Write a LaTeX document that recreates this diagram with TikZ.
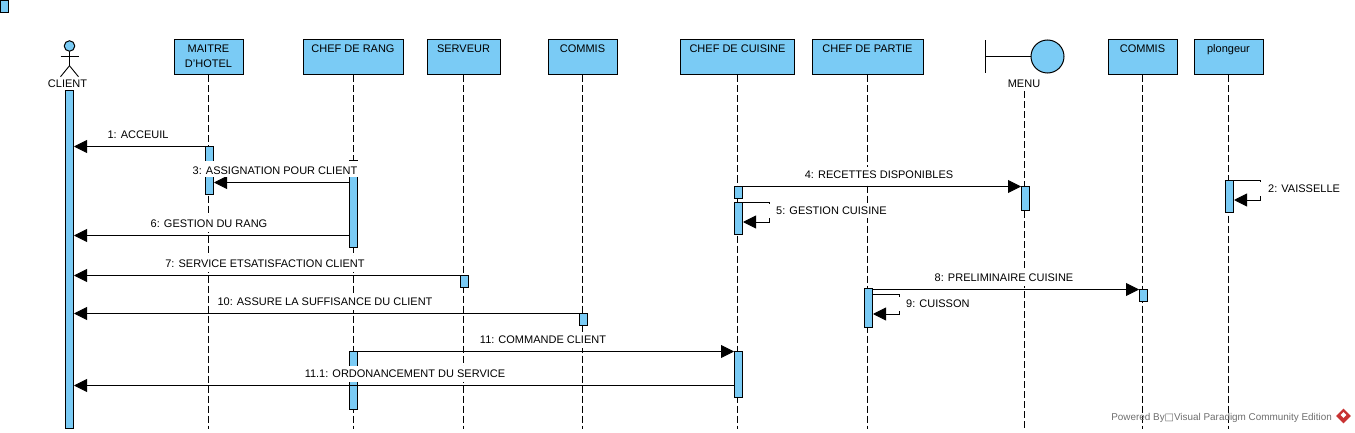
\documentclass[tikz,border=0pt]{standalone}
\usepackage{xcolor}
\usepackage{fontspec}
\setmainfont{Liberation Sans}
\newfontfamily\boxfont{DejaVu Sans}
\usepackage{tikz}
\usetikzlibrary{arrows.meta,shapes.geometric}
\definecolor{vpblue}{RGB}{122, 203, 245}
\definecolor{vpgray}{RGB}{110, 110, 110}
\definecolor{vpred}{RGB}{200, 50, 50}

\begin{document}
\begin{tikzpicture}[
  x=1pt, y=-1pt,
  every node/.style={font=\fontsize{11}{15}\selectfont},
  head/.style={draw, line width=1pt, fill=vpblue, minimum height=35pt, inner sep=0pt,
               align=center, execute at end node={\rule[-2pt]{0pt}{2pt}}},
  bar/.style={draw, line width=1pt, fill=vpblue, minimum width=8pt, inner sep=0pt, anchor=north},
  lifeline/.style={draw, line width=0.9pt, dash pattern=on 7pt off 3pt},
  msg/.style={line width=0.9pt, -{Triangle[length=13pt,width=13pt]}},
  msglabel/.style={fill=white, inner xsep=1pt, inner ysep=4pt},
  selflabel/.style={fill=white, inner xsep=8pt, inner ysep=3pt, anchor=west}
]
  \useasboundingbox (0,0) rectangle (1355,433);
  \coordinate (bottom) at (0,429);

  % Corner mark
  \node[bar, minimum height=12pt] (mark) at (4.5,0.5) {};

  % Client actor
  \node[circle, draw, line width=1pt, fill=vpblue, minimum size=10.5pt, inner sep=0pt] (clienthead) at (69.5,46) {};
  \draw[line width=0.9pt] (clienthead.south) -- ++(0,14) coordinate (hip) -- ++(-9,11);
  \draw[line width=0.9pt] (hip) -- ++(9,11);
  \draw[line width=0.9pt] ([shift={(-9,5)}]clienthead.south) -- ++(18,0);
  \node (client) at (67.5,84) {CLIENT};

  % Lifeline heads
  \node[head, minimum width=69pt] (maitre) at (208.5,57.5) {MAITRE\\D'HOTEL};
  \node[head, minimum width=100pt] (rang) at (353,57.5) {CHEF DE RANG\\~};
  \node[head, minimum width=73pt] (serveur) at (463.5,57.5) {SERVEUR\\~};
  \node[head, minimum width=69pt] (commis) at (582.5,57.5) {COMMIS\\~};
  \node[head, minimum width=114pt] (cuisine) at (737.5,57.5) {CHEF DE CUISINE\\~};
  \node[head, minimum width=111pt] (partie) at (867.5,57.5) {CHEF DE PARTIE\\~};
  \node[head, minimum width=69pt] (commisb) at (1142.5,57.5) {COMMIS\\~};
  \node[head, minimum width=69pt] (plongeur) at (1228.5,57.5) {plongeur\\~};

  % Menu boundary
  \node[circle, draw, line width=1pt, fill=vpblue, minimum size=33pt, inner sep=0pt] (menucircle) at (1047.5,56.5) {};
  \coordinate (menuedge) at (985,56.5);
  \draw[line width=0.9pt] (menucircle) -- (menuedge);
  \draw[line width=0.9pt] ([yshift=-16.5pt]menuedge) -- ([yshift=16.5pt]menuedge);
  \node (menu) at (1024,84) {MENU};

  % Lifelines
  \foreach \who in {maitre, rang, serveur, commis, cuisine, partie, menu, commisb, plongeur}
    \draw[lifeline] (\who.south) -- (\who |- bottom);

  % Activation bars
  \node[bar, minimum height=338pt] (barClient) at (69.5,90) {};
  \node[bar, minimum height=48pt] (actMaitre) at (209.5,146) {};
  \node[bar, minimum height=87pt] (actRang) at (353.5,160) {};
  \node[bar, minimum height=58pt] (actRangb) at (353.5,351) {};
  \node[bar, minimum height=12pt] (actServeur) at (464.5,275) {};
  \node[bar, minimum height=12pt] (actCommis) at (583.5,313) {};
  \node[bar, minimum height=12pt] (actCuisine) at (738.5,186) {};
  \node[bar, minimum height=32pt] (actCuisineb) at (738.5,202) {};
  \node[bar, minimum height=46pt] (actCuisinec) at (738.5,351) {};
  \node[bar, minimum height=39pt] (actPartie) at (868.5,288) {};
  \node[bar, minimum height=24pt] (actMenu) at (1025.5,186) {};
  \node[bar, minimum height=12pt] (actCommisb) at (1143.5,289) {};
  \node[bar, minimum height=32pt] (actPlongeur) at (1229.5,180) {};

  % Message rows
  \coordinate (m1) at (0,146.5);
  \coordinate (m3) at (0,182.5);
  \coordinate (m4) at (0,186.5);
  \coordinate (m6) at (0,235.5);
  \coordinate (m7) at (0,275.5);
  \coordinate (m8) at (0,289.5);
  \coordinate (m10) at (0,313.5);
  \coordinate (m11) at (0,351.5);
  \coordinate (m111) at (0,385.5);

  % Messages
  \draw[msg] (actMaitre.west |- m1) -- (barClient.east |- m1);
  \draw[msg] (actRang.west |- m3) -- (actMaitre.east |- m3);
  \draw[msg] (actCuisine.east |- m4) -- (actMenu.west |- m4);
  \draw[msg] (actRang.west |- m6) -- (barClient.east |- m6);
  \draw[msg] (actServeur.west |- m7) -- (barClient.east |- m7);
  \draw[msg] (actPartie.east |- m8) -- (actCommisb.west |- m8);
  \draw[msg] (actCommis.west |- m10) -- (barClient.east |- m10);
  \draw[msg] (actRangb.east |- m11) -- (actCuisinec.west |- m11);
  \draw[msg] (actCuisinec.west |- m111) -- (barClient.east |- m111);

  % Self messages
  \draw[msg] (actCuisineb.north east) -- ++(26,0) -- ++(0,20) -- ([yshift=-20pt]actCuisineb.north east);
  \draw[msg] ([yshift=-6pt]actPartie.north east) -- ++(26,0) -- ++(0,20) -- ([yshift=-26pt]actPartie.north east);
  \draw[msg] (actPlongeur.north east) -- ++(26,0) -- ++(0,20) -- ([yshift=-20pt]actPlongeur.north east);

  % Message labels
  \node[msglabel] (l1) at (138,135) {1: ACCEUIL};
  \node[msglabel, anchor=south, text height=13pt, text depth=1pt, inner ysep=1pt] (l3) at (275,177) {3: ASSIGNATION POUR CLIENT};
  \node[msglabel] (l4) at (879,175) {4: RECETTES DISPONIBLES};
  \node[msglabel] (l6) at (209,224) {6: GESTION DU RANG};
  \node[msglabel] (l7) at (265,264) {7: SERVICE ETSATISFACTION CLIENT};
  \node[msglabel] (l8) at (1004,278) {8: PRELIMINAIRE CUISINE};
  \node[msglabel] (l10) at (325,302) {10: ASSURE LA SUFFISANCE DU CLIENT};
  \node[msglabel] (l11) at (543,340) {11: COMMANDE CLIENT};
  \node[msglabel] (l111) at (405,374) {11.1: ORDONANCEMENT DU SERVICE};
  \node[selflabel] (l5) at (768,211) {5: GESTION CUISINE};
  \node[selflabel] (l9) at (898,304) {9: CUISSON};
  \node[selflabel] (l2) at (1260,189) {2: VAISSELLE};

  % Watermark
  \node[text=vpgray, font=\fontsize{9.9}{12}\selectfont, anchor=east, inner sep=0pt] (powered) at (1332,418)
    {Powered By{\boxfont □}Visual Paradigm Community Edition};
  \node[diamond, fill=vpred, minimum size=15pt, inner sep=0pt] (logo) at (1343.5,416) {};
  \node[diamond, fill=white, minimum size=6pt, inner sep=0pt] (logoin) at (1343.5,415) {};
\end{tikzpicture}
\end{document}
